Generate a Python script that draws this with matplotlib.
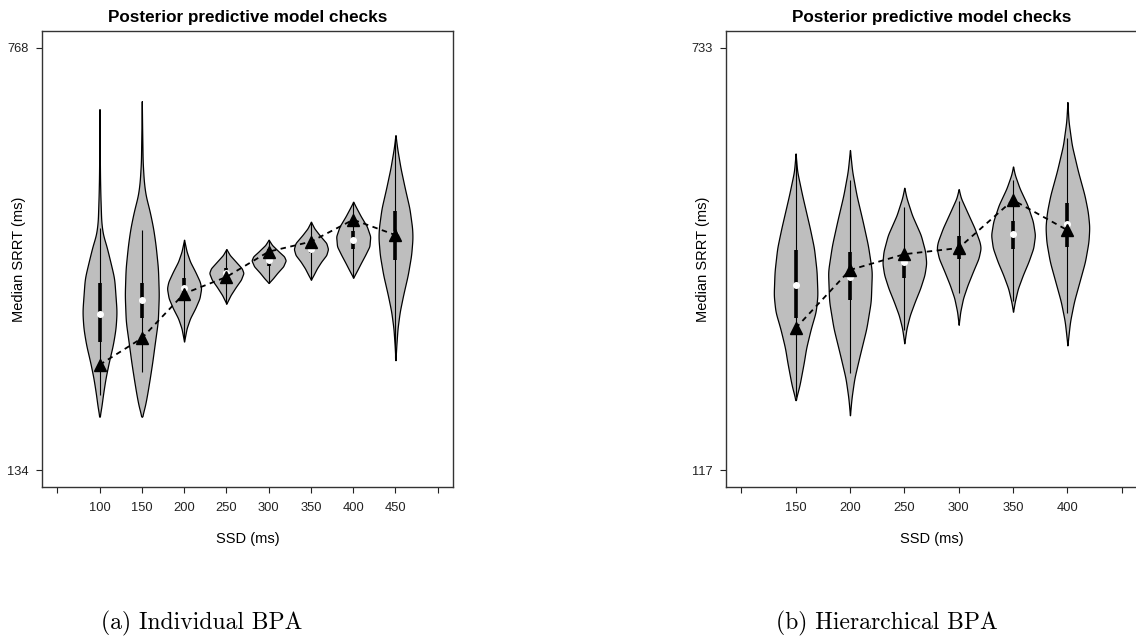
import numpy as np
import matplotlib.pyplot as plt

plt.rcParams['font.family'] = ['Liberation Sans', 'DejaVu Sans']

# ---- (a) Individual BPA ----
ssd_a = [100, 150, 200, 250, 300, 350, 400, 450]
obs_a = [292, 332, 399, 424, 462, 477, 510, 487]
q1_a = [327, 363, 397, 422, 441, 460, 466, 450]
med_a = [369, 390, 408, 430, 449, 466, 479, 488]
q3_a = [415, 415, 422, 437, 466, 472, 493, 523]
wlo_a = [247, 282, 329, 384, 415, 420, 423, 302]
whi_a = [497, 495, 477, 465, 480, 507, 537, 633]
# violin outlines: y levels (ms) and relative half width
prof_y_a = [
    [676, 622, 572, 547, 507, 487, 472, 447, 422, 372, 347, 322, 297, 272, 247, 227, 214],
    [688, 647, 597, 567, 547, 522, 497, 472, 437, 397, 357, 322, 297, 272, 247, 227, 214],
    [480, 462, 447, 432, 417, 407, 392, 377, 362, 347, 327],
    [466, 457, 447, 437, 430, 420, 409, 397, 384],
    [480, 472, 462, 455, 449, 440, 430, 422, 415],
    [507, 497, 487, 475, 466, 457, 447, 437, 427, 420],
    [537, 527, 515, 500, 485, 470, 457, 445, 435, 423],
    [637, 617, 587, 557, 527, 497, 482, 457, 427, 397, 372, 347, 322, 299],
]
prof_w_a = [
    [0, .01, .03, .05, .10, .20, .39, .63, .86, 1.0, .94, .78, .55, .35, .20, .10, 0],
    [0, .02, .05, .12, .22, .47, .67, .81, .95, 1.0, .94, .75, .62, .47, .31, .16, 0],
    [0, .15, .35, .65, .92, 1.0, .90, .65, .35, .15, 0],
    [0, .20, .55, .90, 1.0, .85, .55, .25, 0],
    [0, .20, .60, .90, 1.0, .85, .50, .25, 0],
    [0, .20, .50, .90, 1.0, .90, .60, .35, .15, 0],
    [0, .20, .45, .80, 1.0, .95, .70, .45, .25, 0],
    [0, .10, .30, .55, .82, .98, 1.0, .92, .72, .45, .25, .12, .05, 0],
]

# ---- (b) Hierarchical BPA ----
ssd_b = [150, 200, 250, 300, 350, 400]
obs_b = [324, 409, 432, 441, 511, 467]
q1_b = [339, 365, 398, 425, 440, 442]
med_b = [387, 399, 421, 440, 461, 476]
q3_b = [438, 435, 426, 458, 481, 506]
wlo_b = [224, 258, 321, 375, 363, 346]
whi_b = [570, 540, 501, 509, 540, 601]
prof_y_b = [
    [579, 553, 518, 470, 441, 407, 372, 348, 324, 295, 275, 241, 219],
    [584, 553, 518, 480, 445, 407, 363, 324, 285, 251, 222, 197],
    [529, 514, 489, 460, 436, 419, 402, 382, 363, 343, 324, 302],
    [527, 514, 494, 470, 450, 441, 426, 407, 387, 368, 348, 329],
    [560, 548, 528, 504, 480, 460, 441, 421, 402, 382, 363, 348],
    [654, 626, 591, 553, 518, 494, 472, 450, 421, 392, 363, 334, 314, 299],
]
prof_w_b = [
    [0, .07, .30, .65, .84, .96, 1.0, .92, .70, .48, .38, .18, 0],
    [0, .10, .30, .58, .82, 1.0, .95, .75, .45, .20, .07, 0],
    [0, .10, .35, .75, .95, 1.0, .92, .72, .48, .25, .10, 0],
    [0, .10, .38, .72, .95, 1.0, .90, .65, .40, .20, .07, 0],
    [0, .08, .30, .65, .90, 1.0, .92, .70, .45, .22, .08, 0],
    [0, .05, .20, .48, .78, .93, 1.0, .96, .80, .55, .30, .12, .05, 0],
]


def vstats(ys, ws, med, lo, hi):
    ys = np.asarray(ys, float)[::-1]
    ws = np.asarray(ws, float)[::-1]
    grid = np.linspace(ys[0], ys[-1], 400)
    w = np.interp(grid, ys, ws)
    k = np.hanning(31)
    k /= k.sum()
    w = np.convolve(np.pad(w, 15, mode='edge'), k, mode='same')[15:-15]
    w[0] = w[-1] = 0
    return dict(coords=grid, vals=w, mean=med, median=med, min=lo, max=hi)


def panel(ax, ssd, obs, q1, med, q3, wlo, whi, py, pw, xticks, xlabels, yticks):
    stats = [vstats(y, w, m, l, h) for y, w, m, l, h in zip(py, pw, med, wlo, whi)]
    parts = ax.violin(stats, positions=ssd, widths=40, showmeans=False,
                      showextrema=False, showmedians=False)
    for b in parts['bodies']:
        b.set_facecolor('#bebebe')
        b.set_edgecolor('black')
        b.set_alpha(1)
        b.set_linewidth(0.9)
        b.set_zorder(1)
    ax.vlines(ssd, wlo, whi, color='black', lw=0.8, zorder=2)
    ax.vlines(ssd, q1, q3, color='black', lw=2.6, zorder=3)
    ax.plot(ssd, med, 'o', color='white', ms=4, zorder=4)
    ax.plot(ssd, obs, color='black', lw=1.3, ls=(0, (3, 2.5)), zorder=5)
    ax.plot(ssd, obs, '^', color='black', ms=8, zorder=6)

    r = xticks[-1] - xticks[0]
    ax.set_xlim(xticks[0] - 0.04 * r, xticks[-1] + 0.04 * r)
    r = yticks[-1] - yticks[0]
    ax.set_ylim(yticks[0] - 0.04 * r, yticks[-1] + 0.04 * r)
    ax.set_xticks(xticks)
    ax.set_xticklabels(xlabels)
    ax.set_yticks(yticks)
    ax.set_yticklabels([str(t) for t in yticks])
    ax.tick_params(axis='x', direction='out', length=4.3, width=0.8,
                   labelsize=9.3, pad=6.5, colors='#222')
    ax.tick_params(axis='y', direction='out', length=4.3, width=0.8,
                   labelsize=9.3, pad=5, colors='#222')
    for s in ax.spines.values():
        s.set_linewidth(1.0)
        s.set_color('#333')
    ax.set_title('Posterior predictive model checks', fontweight='bold',
                 fontsize=12.3, pad=6.5)
    ax.set_xlabel('SSD (ms)', fontsize=10.5)
    ax.set_ylabel('Median SRRT (ms)', fontsize=10.5)
    ax.xaxis.set_label_coords(0.5, -0.099)
    ax.yaxis.set_label_coords(-0.039, 0.5)


W, H = 1136, 639
fig = plt.figure(figsize=(W / 100, H / 100), dpi=100)
ax1 = fig.add_axes([42 / W, (H - 487) / H, 411 / W, 456 / H])
ax2 = fig.add_axes([726 / W, (H - 487) / H, 411 / W, 456 / H])

panel(ax1, ssd_a, obs_a, q1_a, med_a, q3_a, wlo_a, whi_a, prof_y_a, prof_w_a,
      list(range(50, 501, 50)), [''] + [str(s) for s in ssd_a] + [''], [134, 768])
panel(ax2, ssd_b, obs_b, q1_b, med_b, q3_b, wlo_b, whi_b, prof_y_b, prof_w_b,
      list(range(100, 451, 50)), [''] + [str(s) for s in ssd_b] + [''], [117, 733])

fig.text(202 / W, 1 - 623 / H, '(a) Individual BPA', family='cmr10',
         fontsize=17, ha='center', va='center')
fig.text(887 / W, 1 - 623 / H, '(b) Hierarchical BPA', family='cmr10',
         fontsize=17, ha='center', va='center')

plt.savefig('out.png')
plt.close(fig)
